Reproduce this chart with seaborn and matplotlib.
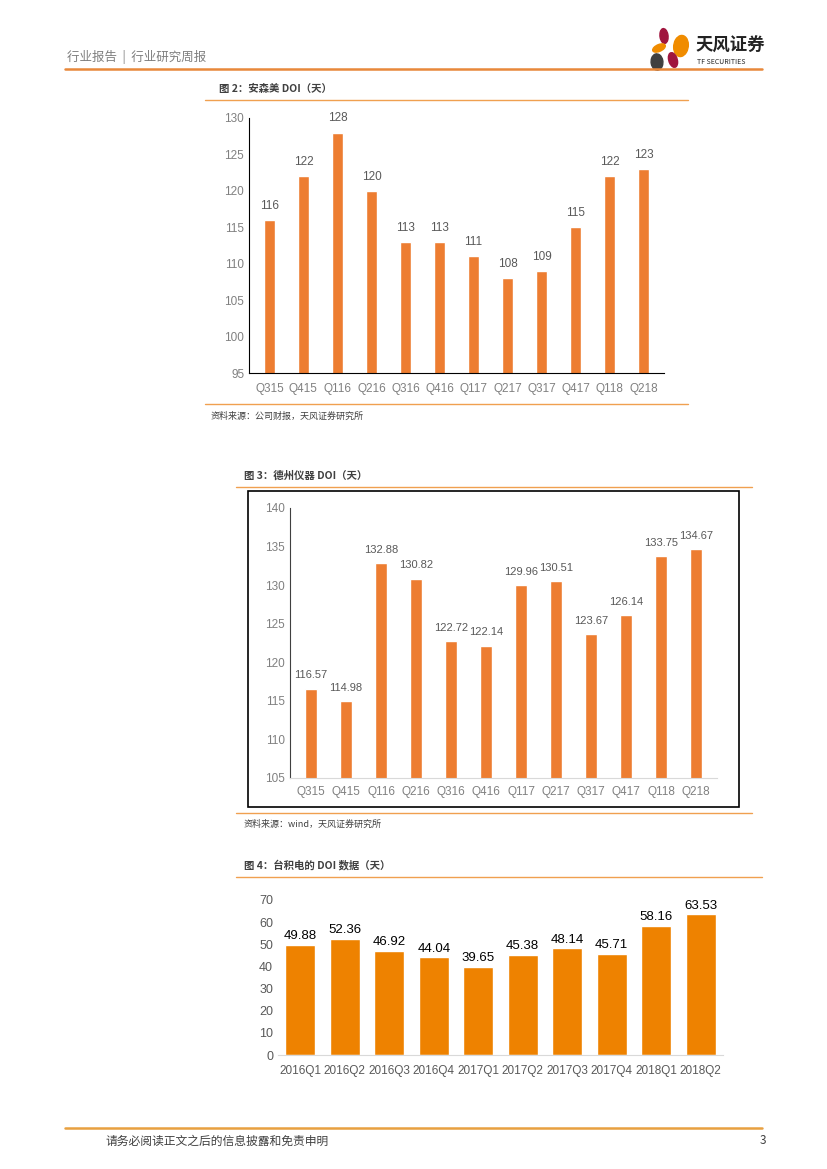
import matplotlib
matplotlib.use("Agg")
import matplotlib.pyplot as plt
import seaborn as sns
import pandas as pd
from matplotlib.patches import Ellipse, Rectangle
from matplotlib.lines import Line2D

# data
q_labels = ["Q315", "Q415", "Q116", "Q216", "Q316", "Q416",
            "Q117", "Q217", "Q317", "Q417", "Q118", "Q218"]
onsemi_doi = [116, 122, 128, 120, 113, 113, 111, 108, 109, 115, 122, 123]
ti_doi = [116.57, 114.98, 132.88, 130.82, 122.72, 122.14,
          129.96, 130.51, 123.67, 126.14, 133.75, 134.67]
tsmc_quarters = ["2016Q1", "2016Q2", "2016Q3", "2016Q4", "2017Q1",
                 "2017Q2", "2017Q3", "2017Q4", "2018Q1", "2018Q2"]
tsmc_doi = [49.88, 52.36, 46.92, 44.04, 39.65, 45.38, 48.14, 45.71, 58.16, 63.53]

sns.set_style("white")
plt.rcParams["font.family"] = ["Noto Sans CJK SC", "DejaVu Sans"]

W, H = 827, 1169
fig = plt.figure(figsize=(W / 100, H / 100), dpi=100)

ORANGE_LINE = "#F0A050"
BAR1 = "#ED7D31"
BAR3 = "#EE8200"
GRAY = "#595959"
LIGHT = "#808080"
NUM = "Liberation Sans"


def px_axes(x0, y0, x1, y1):
    # rectangle given in page pixels (top-left origin)
    return fig.add_axes([x0 / W, 1 - y1 / H, (x1 - x0) / W, (y1 - y0) / H])


def hline(x0, x1, y, color=ORANGE_LINE, lw=1.0):
    fig.add_artist(Line2D([x0 / W, x1 / W], [1 - y / H, 1 - y / H],
                          transform=fig.transFigure, color=color, lw=lw))


def ftext(x, y, s, **kw):
    fig.text(x / W, 1 - y / H, s, va="center", **kw)


def number_ticks(ax, color, size, xpad):
    ax.tick_params(length=0, labelsize=size, labelcolor=color)
    ax.tick_params(axis="x", pad=xpad)
    for lab in ax.get_xticklabels() + ax.get_yticklabels():
        lab.set_family(NUM)
    ax.set_xlabel("")
    ax.set_ylabel("")


# page header
ftext(67, 57, "行业报告  |  行业研究周报", fontsize=9, color="#7F7F7F")
hline(65, 762, 69, color="#E8883A", lw=1.8)
logo = [((664, 36), 8, 15, 15, "#A0153E"), ((681, 46), 14, 22, -40, "#F08C00"),
        ((659, 48), 13, 7, 15, "#F08C00"), ((657, 62), 12, 16, -30, "#404040"),
        ((673, 60), 8, 16, 35, "#A0153E")]
for (cx, cy), w_, h_, ang, col in logo:
    fig.add_artist(Ellipse((cx / W, 1 - cy / H), w_ / W, h_ / H, angle=ang,
                           transform=fig.transFigure, color=col))
ftext(696, 46, "天风证券", fontsize=12.5, color="#222222", fontweight="bold")
ftext(697, 62, "TF SECURITIES", fontsize=5, color="#222222")

# ---- chart 1: 安森美 ----
ftext(219, 89, "图 2：安森美 DOI（天）", fontsize=7.5, color="#404040", fontweight="bold")
hline(205, 688, 100)
ax1 = px_axes(249, 118, 664, 373)
df1 = pd.DataFrame({"q": q_labels, "doi": onsemi_doi})
sns.barplot(data=df1, x="q", y="doi", color=BAR1, saturation=1, width=0.33, ax=ax1)
ax1.set_ylim(95, 130)
ax1.set_yticks(range(95, 131, 5))
ax1.set_xlim(-0.6, 11.6)
for i, v in enumerate(onsemi_doi):
    ax1.annotate(str(v), (i, v), xytext=(0, 6), textcoords="offset points",
                 ha="center", va="bottom", fontsize=8.5, color=GRAY, family=NUM)
for s in ["top", "right"]:
    ax1.spines[s].set_visible(False)
ax1.spines["left"].set_color("#000000")
ax1.spines["bottom"].set_color("#000000")
number_ticks(ax1, LIGHT, 8.5, 7)
hline(205, 688, 404)
ftext(211, 416, "资料来源：公司财报，天风证券研究所", fontsize=6.5, color="#404040")

# ---- chart 2: 德州仪器 ----
ftext(244, 476, "图 3：德州仪器 DOI（天）", fontsize=7.5, color="#404040", fontweight="bold")
hline(236, 752, 487)
fig.add_artist(Rectangle((248 / W, 1 - 807 / H), (739 - 248) / W, (807 - 491) / H,
                         transform=fig.transFigure, fill=False, ec="#000000", lw=1.2))
ax2 = px_axes(290, 508, 717, 778)
df2 = pd.DataFrame({"q": q_labels, "doi": ti_doi})
sns.barplot(data=df2, x="q", y="doi", color=BAR1, saturation=1, width=0.33, ax=ax2)
ax2.set_ylim(105, 140)
ax2.set_yticks(range(105, 141, 5))
ax2.set_xlim(-0.6, 11.6)
for i, v in enumerate(ti_doi):
    ax2.annotate(f"{v:.2f}", (i, v), xytext=(0, 6), textcoords="offset points",
                 ha="center", va="bottom", fontsize=8, color=GRAY, family=NUM)
for s in ["top", "right"]:
    ax2.spines[s].set_visible(False)
ax2.spines["left"].set_color("#404040")
ax2.spines["bottom"].set_color("#D9D9D9")
number_ticks(ax2, LIGHT, 8.5, 6)
hline(236, 752, 813)
ftext(244, 824, "资料来源：wind，天风证券研究所", fontsize=6.5, color="#404040")

# ---- chart 3: 台积电 ----
ftext(244, 865, "图 4：台积电的 DOI 数据（天）", fontsize=7.5, color="#404040", fontweight="bold")
hline(236, 762, 877)
ax3 = px_axes(278, 900, 723, 1055)
df3 = pd.DataFrame({"q": tsmc_quarters, "doi": tsmc_doi})
sns.barplot(data=df3, x="q", y="doi", color=BAR3, saturation=1, width=0.67, ax=ax3)
ax3.set_ylim(0, 70)
ax3.set_yticks(range(0, 71, 10))
ax3.set_xlim(-0.5, 9.5)
for i, v in enumerate(tsmc_doi):
    ax3.annotate(f"{v:.2f}", (i, v), xytext=(0, 2), textcoords="offset points",
                 ha="center", va="bottom", fontsize=9.5, color="#000000", family=NUM)
for s in ["top", "right", "left"]:
    ax3.spines[s].set_visible(False)
ax3.spines["bottom"].set_color("#D9D9D9")
number_ticks(ax3, GRAY, 8.5, 7)
ax3.tick_params(axis="y", labelsize=9)

# footer
hline(65, 762, 1128, color="#E8A040", lw=1.8)
ftext(105, 1141, "请务必阅读正文之后的信息披露和免责申明", fontsize=8.5, color="#404040")
ftext(760, 1141, "3", fontsize=8.5, color="#404040")

fig.savefig("out.png", dpi=100)
